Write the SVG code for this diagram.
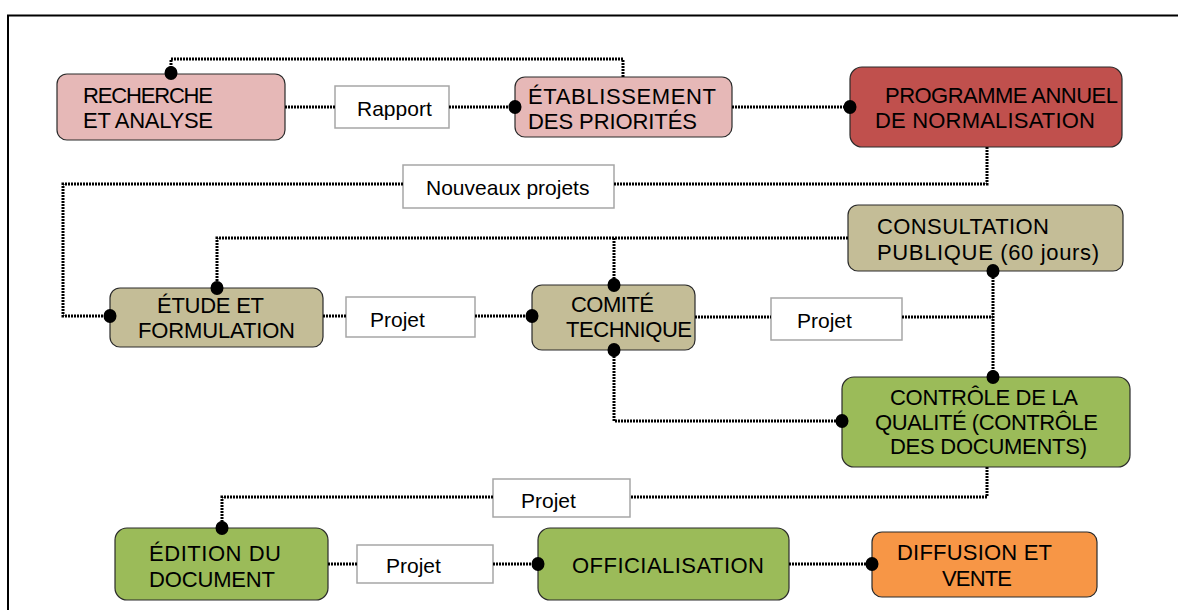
<svg xmlns="http://www.w3.org/2000/svg" width="1178" height="610" viewBox="0 0 1178 610">
<style>
.node{stroke:#2b2b2b;stroke-width:1.2}
.pink{fill:#e6b8b7}.red{fill:#c0504d}.tan{fill:#c4bd97}.green{fill:#9bbb59}.orange{fill:#f79646}
.lbl{fill:#ffffff;stroke:#a6a6a6;stroke-width:1.5}
text{font-family:"Liberation Sans",Arial,sans-serif;font-size:21px;fill:#000}
.n{font-size:22px}
.conn{fill:none;stroke:#000;stroke-width:3;stroke-dasharray:2 1}
.dot{fill:#000}
</style>
<rect width="1178" height="610" fill="#fff"/>
<path d="M8,610 V15.5 H1178" fill="none" stroke="#000" stroke-width="2"/>
<g id="label-rapport"><rect class="lbl" x="335" y="86" width="114" height="42"/><text x="357" y="116">Rapport</text></g>
<g id="label-nouveaux"><rect class="lbl" x="403" y="165" width="211" height="43"/><text x="426" y="195">Nouveaux projets</text></g>
<g id="label-projet1"><rect class="lbl" x="346" y="297" width="129" height="40"/><text x="370" y="327">Projet</text></g>
<g id="label-projet2"><rect class="lbl" x="771" y="298" width="131" height="42"/><text x="797" y="328">Projet</text></g>
<g id="label-projet3"><rect class="lbl" x="493" y="479" width="137" height="38"/><text x="521" y="508">Projet</text></g>
<g id="label-projet4"><rect class="lbl" x="357" y="545" width="136" height="38"/><text x="386" y="573">Projet</text></g>
<g id="recherche"><rect class="node pink" x="57" y="74" width="228" height="66" rx="10"/><text class="n" x="83" y="103" textLength="130">RECHERCHE</text><text class="n" x="83" y="128" textLength="130">ET ANALYSE</text></g>
<g id="etablissement"><rect class="node pink" x="515" y="77" width="217" height="60" rx="10"/><text class="n" x="528" y="104" textLength="188">ÉTABLISSEMENT</text><text class="n" x="528" y="129" textLength="169">DES PRIORITÉS</text></g>
<g id="programme"><rect class="node red" x="850" y="67" width="272" height="80" rx="12"/><text class="n" x="885" y="103" textLength="233">PROGRAMME ANNUEL</text><text class="n" x="875" y="128" textLength="220">DE NORMALISATION</text></g>
<g id="consultation"><rect class="node tan" x="848" y="205" width="275" height="66" rx="10"/><text class="n" x="877" y="234" textLength="172">CONSULTATION</text><text class="n" x="877" y="260" textLength="222">PUBLIQUE (60 jours)</text></g>
<g id="etude"><rect class="node tan" x="110" y="288" width="213" height="59" rx="10"/><text class="n" x="157" y="313" textLength="107">ÉTUDE ET</text><text class="n" x="138" y="338" textLength="157">FORMULATION</text></g>
<g id="comite"><rect class="node tan" x="532" y="285" width="163" height="65" rx="10"/><text class="n" x="571" y="312" textLength="83">COMITÉ</text><text class="n" x="566" y="337" textLength="126">TECHNIQUE</text></g>
<g id="controle"><rect class="node green" x="842" y="377" width="288" height="90" rx="12"/><text class="n" x="890" y="405" textLength="188">CONTRÔLE DE LA</text><text class="n" x="875" y="430" textLength="223">QUALITÉ (CONTRÔLE</text><text class="n" x="890" y="454" textLength="197">DES DOCUMENTS)</text></g>
<g id="edition"><rect class="node green" x="115" y="528" width="213" height="72" rx="12"/><text class="n" x="149" y="561" textLength="132">ÉDITION DU</text><text class="n" x="149" y="587" textLength="126">DOCUMENT</text></g>
<g id="officialisation"><rect class="node green" x="538" y="528" width="251" height="72" rx="12"/><text class="n" x="572" y="573" textLength="192">OFFICIALISATION</text></g>
<g id="diffusion"><rect class="node orange" x="872" y="532" width="225" height="65" rx="10"/><text class="n" x="897" y="560" textLength="155">DIFFUSION ET</text><text class="n" x="942" y="586" textLength="70">VENTE</text></g>
<g id="connectors">
<path class="conn" d="M285,107 H335 M449,107 H510"/>
<path class="conn" d="M623,77 V59 H171 V68"/>
<path class="conn" d="M732,107 H844"/>
<path class="conn" d="M987,147 V184 H614 M403,184 H63 V316 H104"/>
<path class="conn" d="M323,316 H346 M475,316 H526"/>
<path class="conn" d="M848,238 H217 V282 M614,238 V279"/>
<path class="conn" d="M695,317 H771 M902,317 H993 M993,277 V371"/>
<path class="conn" d="M614,356 V421 H836"/>
<path class="conn" d="M987,467 V497 H630 M493,497 H222 V522"/>
<path class="conn" d="M328,564 H357 M493,564 H532"/>
<path class="conn" d="M789,564 H866"/>
<ellipse class="dot" cx="171" cy="73" rx="6.5" ry="7"/>
<ellipse class="dot" cx="515" cy="107" rx="6.5" ry="7"/>
<ellipse class="dot" cx="850" cy="107" rx="6.5" ry="7"/>
<ellipse class="dot" cx="110" cy="316" rx="6.5" ry="7"/>
<ellipse class="dot" cx="217" cy="288" rx="6.5" ry="7"/>
<ellipse class="dot" cx="532" cy="316" rx="6.5" ry="7"/>
<ellipse class="dot" cx="614" cy="285" rx="6.5" ry="7"/>
<ellipse class="dot" cx="614" cy="350" rx="6.5" ry="7"/>
<ellipse class="dot" cx="993" cy="271" rx="6.5" ry="7"/>
<ellipse class="dot" cx="993" cy="377" rx="6.5" ry="7"/>
<ellipse class="dot" cx="842" cy="421" rx="6.5" ry="7"/>
<ellipse class="dot" cx="222" cy="528" rx="6.5" ry="7"/>
<ellipse class="dot" cx="538" cy="564" rx="6.5" ry="7"/>
<ellipse class="dot" cx="872" cy="564" rx="6.5" ry="7"/>
</g>
</svg>
